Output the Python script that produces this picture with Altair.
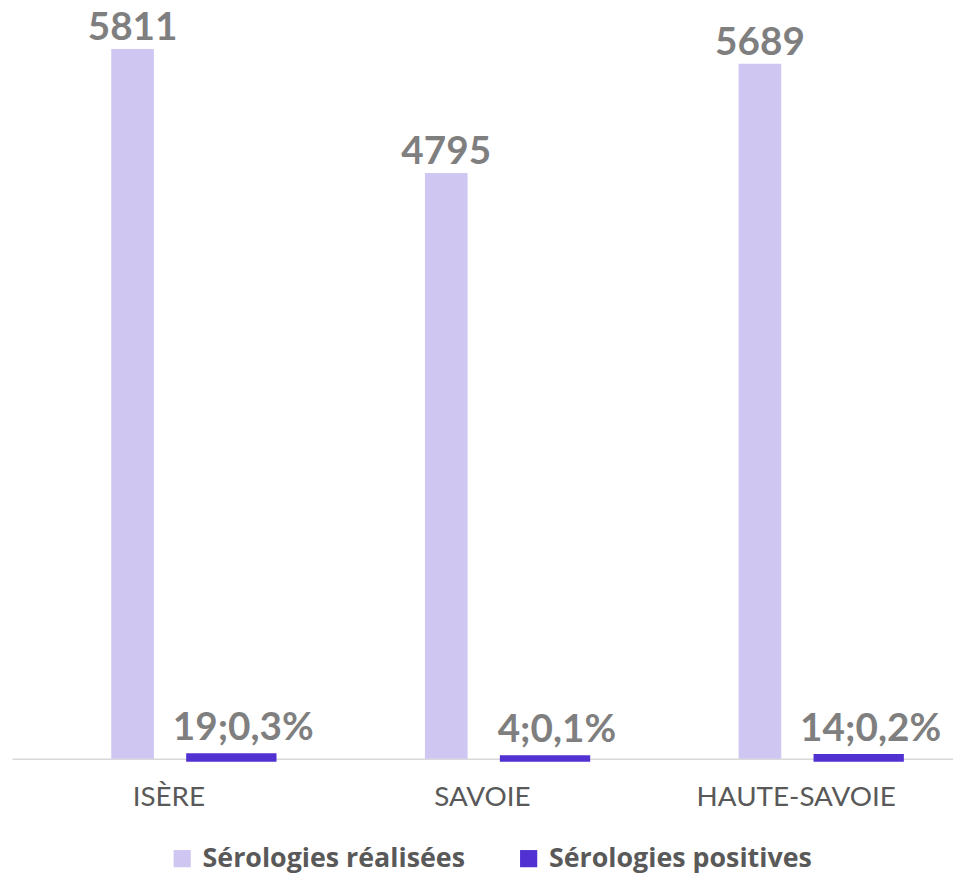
import altair as alt
import pandas as pd

categories = ["ISÈRE", "SAVOIE", "HAUTE-SAVOIE"]
series = ["Sérologies réalisées", "Sérologies positives"]
realisees = [5811, 4795, 5689]
positives = [19, 4, 14]
positives_pct = ["0,3%", "0,1%", "0,2%"]

LIGHT = "#cfc7f2"
DARK = "#5231d2"

rows = []
for c, v in zip(categories, realisees):
    rows.append({"cat": c, "serie": series[0], "val": v, "label": str(v)})
for c, v, p in zip(categories, positives, positives_pct):
    rows.append({"cat": c, "serie": series[1], "val": v, "label": f"{v};{p}"})
df = pd.DataFrame(rows)

x = alt.X(
    "cat:N",
    sort=categories,
    scale=alt.Scale(paddingInner=0, paddingOuter=0),
    axis=alt.Axis(
        title=None, labelAngle=0, ticks=False, domainColor="#d9d9d9",
        domainWidth=1.5, labelFont="Lato", labelFontSize=28, labelLimit=0,
        labelColor="#595959", labelPadding=25,
    ),
)
y = alt.Y("val:Q", scale=alt.Scale(domain=[0, 6071], nice=False), axis=None)
color = alt.Color(
    "serie:N",
    scale=alt.Scale(domain=series, range=[LIGHT, DARK]),
    legend=alt.Legend(
        orient="none", legendX=158, legendY=834, direction="horizontal",
        title=None, symbolType="square", symbolSize=300, symbolStrokeWidth=0,
        labelFont="Open Sans", labelFontSize=27, labelFontWeight="bold", labelLimit=0,
        labelColor="#595959", columnPadding=50, labelOffset=7, padding=0,
    ),
)

base = alt.Chart(df)
light_bars = base.transform_filter(alt.datum.serie == series[0]).mark_bar(
    width=43, xOffset=-36.5
).encode(x=x, y=y, color=color)
dark_bars = base.transform_filter(alt.datum.serie == series[1]).mark_bar(
    width=85, xOffset=63, stroke=DARK, strokeWidth=6
).encode(x=x, y=y, color=color)

light_text = base.transform_filter(alt.datum.serie == series[0]).mark_text(
    xOffset=-36.5, dy=-9, baseline="alphabetic", font="Lato", fontSize=39,
    fontWeight="bold", color="#7f7f7f"
).encode(x=x, y=y, text="label:N")
dark_text = base.transform_filter(alt.datum.serie == series[1]).mark_text(
    xOffset=75, dy=-16, baseline="alphabetic", font="Lato", fontSize=39,
    fontWeight="bold", color="#7f7f7f"
).encode(x=x, y=y, text="label:N")

chart = alt.layer(light_bars, dark_bars, light_text, dark_text).properties(
    width=948, height=747,
    autosize=alt.AutoSizeParams(type="none"),
    padding={"left": 4, "top": 6, "right": 0, "bottom": 113},
).configure_view(stroke=None)

chart.save("out.html", embed_options={"renderer": "svg", "actions": False})
